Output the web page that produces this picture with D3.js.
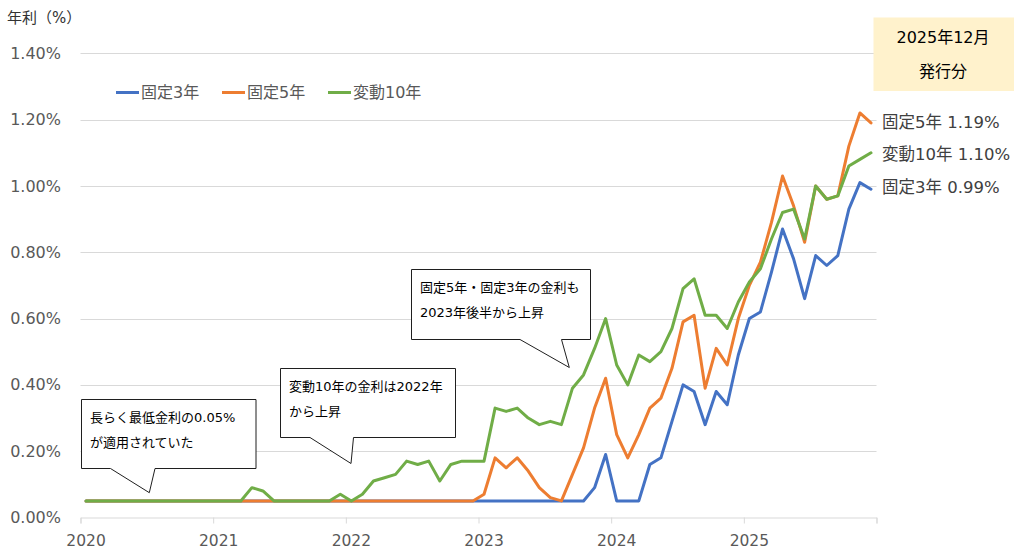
<!DOCTYPE html>
<html><head><meta charset="utf-8">
<script src="https://cdn.jsdelivr.net/npm/d3@7"></script>
<style>
html,body{margin:0;padding:0;background:#fff;}
svg{display:block;font-family:"DejaVu Sans","Noto Sans CJK JP",sans-serif;}
</style></head>
<body><svg id="chart" width="1022" height="559"></svg>
<script>
const years = [2020, 2021, 2022, 2023, 2024, 2025];
const monthNums = [1,2,3,4,5,6,7,8,9,10,11,12];
const categories = years.flatMap(y => monthNums.map(m => `${y}-${String(m).padStart(2, "0")}`));

const seriesNames = ["固定3年", "固定5年", "変動10年"];
const fixed3 = [
  0.05,0.05,0.05,0.05,0.05,0.05,0.05,0.05,0.05,0.05,0.05,0.05,
  0.05,0.05,0.05,0.05,0.05,0.05,0.05,0.05,0.05,0.05,0.05,0.05,
  0.05,0.05,0.05,0.05,0.05,0.05,0.05,0.05,0.05,0.05,0.05,0.05,
  0.05,0.05,0.05,0.05,0.05,0.05,0.05,0.05,0.05,0.05,0.09,0.19,
  0.05,0.05,0.05,0.16,0.18,0.29,0.40,0.38,0.28,0.38,0.34,0.49,
  0.60,0.62,0.74,0.87,0.78,0.66,0.79,0.76,0.79,0.93,1.01,0.99
];
const fixed5 = [
  0.05,0.05,0.05,0.05,0.05,0.05,0.05,0.05,0.05,0.05,0.05,0.05,
  0.05,0.05,0.05,0.05,0.05,0.05,0.05,0.05,0.05,0.05,0.05,0.05,
  0.05,0.05,0.05,0.05,0.05,0.05,0.05,0.05,0.05,0.05,0.05,0.05,
  0.07,0.18,0.15,0.18,0.14,0.09,0.06,0.05,0.13,0.21,0.33,0.42,
  0.25,0.18,0.25,0.33,0.36,0.45,0.59,0.61,0.39,0.51,0.46,0.60,
  0.70,0.77,0.89,1.03,0.94,0.83,1.00,0.96,0.97,1.12,1.22,1.19
];
const var10 = [
  0.05,0.05,0.05,0.05,0.05,0.05,0.05,0.05,0.05,0.05,0.05,0.05,
  0.05,0.05,0.05,0.09,0.08,0.05,0.05,0.05,0.05,0.05,0.05,0.07,
  0.05,0.07,0.11,0.12,0.13,0.17,0.16,0.17,0.11,0.16,0.17,0.17,
  0.17,0.33,0.32,0.33,0.30,0.28,0.29,0.28,0.39,0.43,0.51,0.60,
  0.46,0.40,0.49,0.47,0.50,0.57,0.69,0.72,0.61,0.61,0.57,0.65,
  0.71,0.75,0.84,0.92,0.93,0.84,1.00,0.96,0.97,1.06,1.08,1.10
];
const yTicks = [0, 0.2, 0.4, 0.6, 0.8, 1.0, 1.2, 1.4];
const endLabels = ["固定5年 1.19%", "変動10年 1.10%", "固定3年 0.99%"];
const callouts = [
  ["長らく最低金利の0.05%", "が適用されていた"],
  ["変動10年の金利は2022年", "から上昇"],
  ["固定5年・固定3年の金利も", "2023年後半から上昇"]
];
const issueBox = ["2025年12月", "発行分"];
const colors = ["#4472C4", "#ED7D31", "#70AD47"];

const svg = d3.select("#chart");
const plotL = 80.5, plotR = 876.5, plotT = 53.3, plotB = 517.5;

const x = d3.scalePoint().domain(categories).range([plotL, plotR]).padding(0.5);
const yearX = d3.scaleLinear().domain([2020, 2026]).range([plotL, plotR]);
const y = d3.scaleLinear().domain([0, 1.4]).range([plotB, plotT]);

// gridlines
svg.append("g").selectAll("line").data(yTicks.slice(1)).join("line")
  .attr("x1", plotL).attr("x2", plotR)
  .attr("y1", d => Math.round(y(d)) + 0.5).attr("y2", d => Math.round(y(d)) + 0.5)
  .attr("stroke", "#d9d9d9").attr("stroke-width", 1);

// y labels
svg.append("g").selectAll("text").data(yTicks).join("text")
  .attr("x", 61).attr("y", d => y(d)).attr("dy", "0.35em")
  .attr("text-anchor", "end").attr("font-size", 16).attr("fill", "#595959")
  .text(d => d3.format(".2f")(d) + "%");

// x axis
const xAxis = d3.axisBottom(yearX).tickValues([2020,2021,2022,2023,2024,2025,2026])
  .tickSize(6).tickFormat("");
const gx = svg.append("g").attr("transform", `translate(0,${plotB})`).call(xAxis);
gx.select(".domain").attr("stroke", "#d9d9d9");
gx.selectAll(".tick line").attr("stroke", "#d9d9d9");
svg.append("g").selectAll("text").data(years).join("text")
  .attr("x", d => x(`${d}-01`)).attr("y", 541).attr("dy", "0.35em")
  .attr("text-anchor", "middle").attr("font-size", 15.5).attr("fill", "#595959")
  .text(d => d);

// title
svg.append("text").attr("x", 7).attr("y", 18).attr("dy", "0.35em")
  .attr("font-size", 15).attr("fill", "#333").text("年利（%）");

// lines
const line = d3.line().x((d, i) => x(categories[i])).y(d => y(d));
[fixed3, fixed5, var10].forEach((s, k) => {
  svg.append("path").datum(s).attr("d", line).attr("fill", "none")
    .attr("stroke", colors[k]).attr("stroke-width", 3)
    .attr("stroke-linejoin", "round").attr("stroke-linecap", "round");
});

// legend
const legX = [116, 222, 328];
seriesNames.forEach((n, k) => {
  svg.append("line").attr("x1", legX[k]).attr("x2", legX[k] + 23)
    .attr("y1", 92.5).attr("y2", 92.5).attr("stroke", colors[k]).attr("stroke-width", 3);
  svg.append("text").attr("x", legX[k] + 25).attr("y", 92.5).attr("dy", "0.35em")
    .attr("font-size", 16).attr("fill", "#595959").text(n);
});

// end labels
const endY = [122.5, 154, 187.5];
endLabels.forEach((t, k) => {
  svg.append("text").attr("x", 882).attr("y", endY[k]).attr("dy", "0.35em")
    .attr("font-size", 16.5).attr("fill", "#404040").text(t);
});

// issue box
svg.append("rect").attr("x", 873.5).attr("y", 17.5).attr("width", 140.5).attr("height", 73.5)
  .attr("fill", "#fff2cc");
issueBox.forEach((t, k) => {
  svg.append("text").attr("x", 943).attr("y", k ? 71 : 37).attr("dy", "0.35em")
    .attr("text-anchor", "middle").attr("font-size", 16).attr("fill", "#000").text(t);
});

// callouts
const calloutGeo = [
  {x0: 81.5, y0: 399.5, x1: 256, y1: 468.5, bl: 110.5, br: 155, tx: 149.3, ty: 492.7},
  {x0: 280.5, y0: 368.5, x1: 455.5, y1: 437.5, bl: 310, br: 353.5, tx: 351, ty: 463.5},
  {x0: 411.5, y0: 269.5, x1: 590.5, y1: 339.5, bl: 520, br: 561.5, tx: 569.3, ty: 367.5}
];
callouts.forEach((lines, k) => {
  const g = calloutGeo[k];
  svg.append("path")
    .attr("d", `M${g.x0},${g.y0}H${g.x1}V${g.y1}H${g.br}L${g.tx},${g.ty}L${g.bl},${g.y1}H${g.x0}Z`)
    .attr("fill", "#fff").attr("stroke", "#1f1f1f").attr("stroke-width", 1);
  lines.forEach((t, j) => {
    svg.append("text").attr("x", g.x0 + 8.5).attr("y", g.y0 + 17.5 + j * 25.5).attr("dy", "0.35em")
      .attr("font-size", 13).attr("fill", "#000").text(t);
  });
});
</script></body></html>
